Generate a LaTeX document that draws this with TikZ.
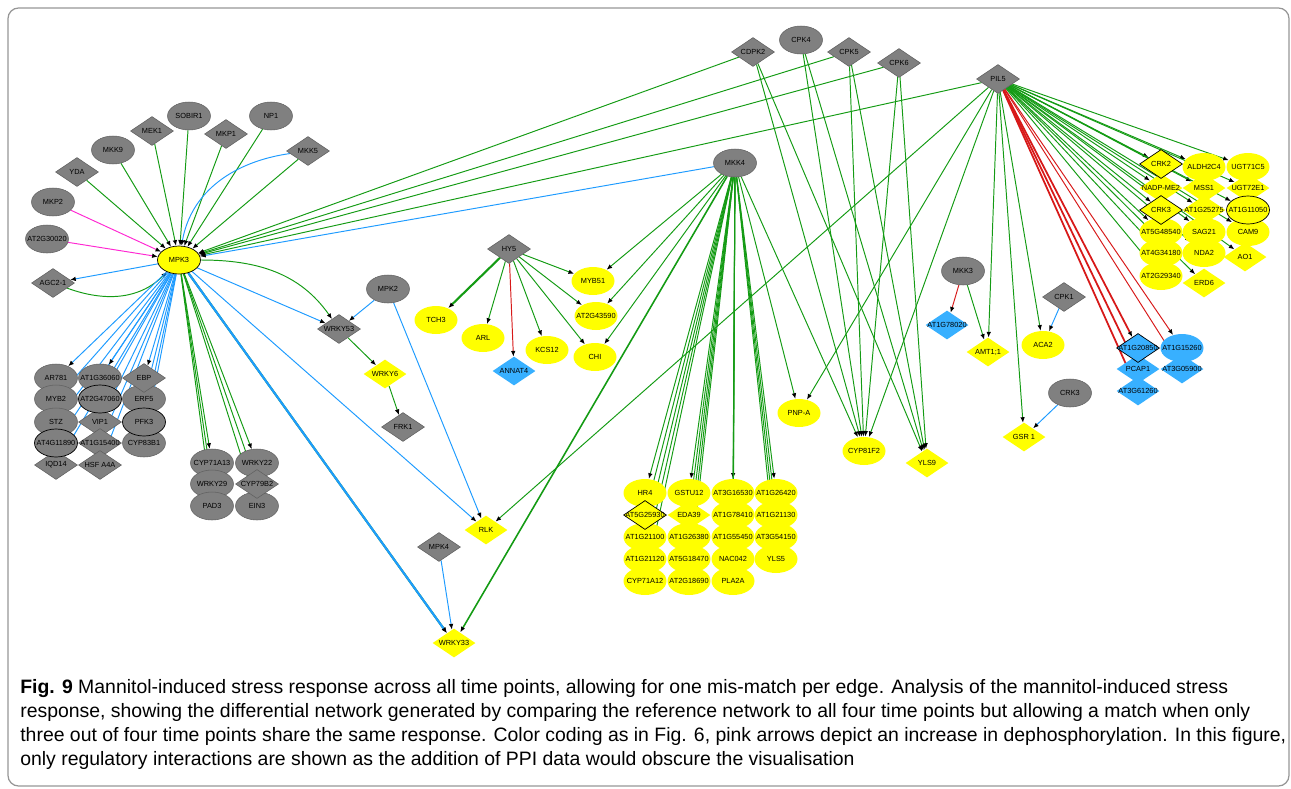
\documentclass[tikz,border=0pt]{standalone}
\usepackage{fontspec}
\setmainfont{Liberation Sans}
\usetikzlibrary{positioning,arrows.meta,shapes.geometric}
\definecolor{nodegray}{RGB}{128,128,128}
\definecolor{nodeyellow}{RGB}{255,255,0}
\definecolor{nodeblue}{RGB}{56,176,255}
\definecolor{actgreen}{RGB}{20,155,20}
\definecolor{phosblue}{RGB}{30,155,255}
\definecolor{inhred}{RGB}{215,25,25}
\definecolor{dephpink}{RGB}{255,40,210}
\definecolor{framegray}{RGB}{150,150,150}
\newcommand{\lbl}[1]{\makebox[0pt]{#1}}
\tikzstyle{vertex}=[ellipse,inner sep=0pt,minimum width=0.86cm,minimum height=0.56cm,font=\fontsize{4.2}{5}\selectfont]
\tikzstyle{rhomb}=[vertex,diamond,minimum height=0.58cm]
\tikzstyle{grey}=[fill=nodegray,draw=nodegray!75!black,line width=0.3pt]
\tikzstyle{yel}=[fill=nodeyellow]
\tikzstyle{blu}=[fill=nodeblue]
\tikzstyle{sel}=[draw=black,line width=0.4pt]
\tikzstyle{act}=[draw=actgreen,line width=0.55pt,-{Latex[color=black,length=3.2pt,width=2.6pt]}]
\tikzstyle{phos}=[act,draw=phosblue]
\tikzstyle{inhib}=[act,draw=inhred]
\tikzstyle{deph}=[act,draw=dephpink]
\tikzstyle{heavy}=[line width=1.2pt]
\tikzstyle{captext}=[anchor=north west,inner sep=0pt,align=left,font=\fontsize{11.05}{13.6}\selectfont]
\pgfdeclarelayer{background}
\pgfsetlayers{background,main}

\begin{document}
\begin{tikzpicture}[x=0.02cm,y=-0.02cm]
  \useasboundingbox (0,0) rectangle (1291,788);
  \draw[framegray,rounded corners=6pt,line width=0.7pt] (8,8) rectangle (1289,786);

  % grey nodes
  \foreach \pos/\name/\txt in {{(53,202)/mkp2/MKP2}, {(47,239)/at2g30020/AT2G30020}, {(113,150)/mkk9/MKK9},
                               {(189,116)/sobir1/SOBIR1}, {(271,116)/np1/NP1}, {(56,378)/ar781/AR781},
                               {(56,399)/myb2/MYB2}, {(56,422)/stz/STZ}, {(100,378)/at1g36060/AT1G36060},
                               {(144,399)/erf5/ERF5}, {(144,443)/cyp83b1/CYP83B1}, {(212,463)/cyp71a13/CYP71A13},
                               {(212,484)/wrky29/WRKY29}, {(212,506)/pad3/PAD3}, {(257,463)/wrky22/WRKY22},
                               {(257,506)/ein3/EIN3}, {(735,163)/mkk4/MKK4}, {(801,40)/cpk4/CPK4},
                               {(963,271)/mkk3/MKK3}, {(1070,393)/crk3b/CRK3}, {(388,289)/mpk2/MPK2}}
    \node[vertex,grey] (\name) at \pos {\lbl{\txt}};
  \foreach \pos/\name/\txt in {{(53,283)/agc21/AGC2-1}, {(77,172)/yda/YDA}, {(152,131)/mek1/MEK1},
                               {(226,134)/mkp1/MKP1}, {(308,151)/mkk5/MKK5}, {(56,465)/iqd14/IQD14},
                               {(100,422)/vip1/VIP1}, {(100,443)/at1g15400/AT1G15400}, {(100,465)/hsfa4a/HSF A4A},
                               {(144,378)/ebp/EBP}, {(257,484)/cyp79b2/CYP79B2}, {(339,329)/wrky53/WRKY53},
                               {(403,427)/frk1/FRK1}, {(509,249)/hy5/HY5}, {(439,547)/mpk4/MPK4},
                               {(753,52)/cdpk2/CDPK2}, {(849,52)/cpk5/CPK5}, {(899,63)/cpk6/CPK6},
                               {(998,79)/pil5/PIL5}, {(1064,297)/cpk1/CPK1}}
    \node[rhomb,grey] (\name) at \pos {\lbl{\txt}};
  \foreach \pos/\name/\txt in {{(56,443)/at4g11890/AT4G11890}, {(100,399)/at2g47060/AT2G47060},
                               {(144,422)/pfk3/PFK3}}
    \node[vertex,grey,sel] (\name) at \pos {\lbl{\txt}};

  % yellow nodes
  \foreach \pos/\name/\txt in {{(436,320)/tch3/TCH3}, {(483,338)/arl/ARL}, {(547,350)/kcs12/KCS12},
                               {(593,281)/myb51/MYB51}, {(596,316)/at2g43590/AT2G43590}, {(595,357)/chi/CHI},
                               {(799,413)/pnpa/PNP-A}, {(864,451)/cyp81f2/CYP81F2}, {(1043,345)/aca2/ACA2},
                               {(645,493)/hr4/HR4}, {(645,537)/at1g21100/AT1G21100}, {(645,559)/at1g21120/AT1G21120},
                               {(645,581)/cyp71a12/CYP71A12}, {(689,493)/gstu12/GSTU12}, {(689,537)/at1g26380/AT1G26380},
                               {(689,559)/at5g18470/AT5G18470}, {(689,581)/at2g18690/AT2G18690},
                               {(733,493)/at3g16530/AT3G16530}, {(733,515)/at1g78410/AT1G78410},
                               {(733,537)/at1g55450/AT1G55450}, {(733,559)/nac042/NAC042}, {(733,581)/pla2a/PLA2A},
                               {(776,493)/at1g26420/AT1G26420}, {(776,515)/at1g21130/AT1G21130},
                               {(776,537)/at3g54150/AT3G54150}, {(776,559)/yls5/YLS5},
                               {(1204,167)/aldh2c4/ALDH2C4}, {(1248,167)/ugt71c5/UGT71C5}, {(1161,232)/at5g48540/AT5G48540},
                               {(1161,253)/at4g34180/AT4G34180}, {(1161,276)/at2g29340/AT2G29340},
                               {(1204,232)/sag21/SAG21}, {(1204,253)/nda2/NDA2}, {(1248,232)/cam9/CAM9}}
    \node[vertex,yel] (\name) at \pos {\lbl{\txt}};
  \foreach \pos/\name/\txt in {{(385,374)/wrky6/WRKY6}, {(486,530)/rlk/RLK}, {(454,643)/wrky33/WRKY33},
                               {(927,463)/yls9/YLS9}, {(988,352)/amt11/AMT1;1}, {(1024,437)/gsr1/GSR 1},
                               {(689,515)/eda39/EDA39}, {(1161,188)/nadpme2/NADP-ME2}, {(1204,188)/mss1/MSS1},
                               {(1204,210)/at1g25275/AT1G25275}, {(1204,283)/erd6/ERD6},
                               {(1248,188)/ugt72e1/UGT72E1}, {(1245,257)/ao1/AO1}}
    \node[rhomb,yel] (\name) at \pos {\lbl{\txt}};
  \node[vertex,yel,sel] (mpk3) at (179,260) {\lbl{MPK3}};
  \node[vertex,yel,sel] (at1g11050) at (1248,210) {\lbl{AT1G11050}};
  \foreach \pos/\name/\txt in {{(645,515)/at5g25930/AT5G25930}, {(1161,164)/crk2/CRK2}, {(1161,210)/crk3/CRK3}}
    \node[rhomb,yel,sel] (\name) at \pos {\lbl{\txt}};

  % blue nodes
  \foreach \pos/\name/\txt in {{(514,371)/annat4/ANNAT4}, {(947,325)/at1g78020/AT1G78020},
                               {(1138,369)/pcap1/PCAP1}, {(1138,391)/at3g61260/AT3G61260},
                               {(1182,369)/at3g05900/AT3G05900}}
    \node[rhomb,blu] (\name) at \pos {\lbl{\txt}};
  \node[vertex,blu] (at1g15260) at (1182,348) {\lbl{AT1G15260}};
  \node[rhomb,blu,sel] (at1g20850) at (1138,348) {\lbl{AT1G20850}};

  \begin{pgfonlayer}{background}
    % activation
    \foreach \source / \dest in {yda/mpk3, mkk9/mpk3, mek1/mpk3, sobir1/mpk3, mkp1/mpk3, np1/mpk3,
                                 mkk5/mpk3, cdpk2/mpk3, cpk5/mpk3, cpk6/mpk3, pil5/mpk3,
                                 mpk3/cyp71a13, mpk3/wrky29, mpk3/pad3, mpk3/wrky22, mpk3/cyp79b2, mpk3/ein3,
                                 wrky53/wrky6, wrky6/frk1, hy5/arl, hy5/kcs12, hy5/chi, hy5/at2g43590, hy5/myb51,
                                 mkk4/myb51, mkk4/at2g43590, mkk4/chi, mkk4/pnpa, mkk4/cyp81f2,
                                 cdpk2/cyp81f2, cdpk2/yls9, cpk4/cyp81f2, cpk4/yls9, cpk5/cyp81f2, cpk5/yls9,
                                 cpk6/cyp81f2, cpk6/yls9, pil5/rlk, pil5/pnpa, pil5/cyp81f2, pil5/amt11,
                                 pil5/gsr1, pil5/aca2, mkk3/amt11}
      \path[act] (\source) -- (\dest);
    \foreach \dest in {hr4, at5g25930, at1g21100, at1g21120, cyp71a12, gstu12, eda39, at1g26380,
                       at5g18470, at2g18690, at3g16530, at1g78410, at1g55450, nac042, pla2a,
                       at1g26420, at1g21130, at3g54150, yls5}
      \path[act] (mkk4) -- (\dest);
    \foreach \dest in {crk2, nadpme2, crk3, at5g48540, at4g34180, at2g29340, aldh2c4, mss1, at1g25275,
                       sag21, nda2, erd6, ugt71c5, ugt72e1, at1g11050, cam9, ao1}
      \path[act] (pil5) -- (\dest);
    \path[act,heavy] (hy5) -- (tch3);
    \path[act,heavy] (mpk3) -- (wrky33);
    \path[act,line width=0.9pt] (mkk4) -- (wrky33);
    \path[act] (agc21) to[out=-20,in=225] (mpk3);
    \path[act] (mpk3) to[out=0,in=125] (wrky53);
    % phosphorylation
    \foreach \source / \dest in {mpk3/agc21, mkk4/mpk3, mpk3/wrky53, mpk2/wrky53, mpk2/rlk, mpk3/rlk,
                                 mpk4/wrky33, cpk1/aca2, crk3b/gsr1}
      \path[phos] (\source) -- (\dest);
    \foreach \dest in {ar781, myb2, stz, at4g11890, iqd14, at1g36060, at2g47060, vip1, at1g15400,
                       hsfa4a, ebp, erf5, pfk3, cyp83b1}
      \path[phos] (mpk3) -- (\dest);
    \path[phos,heavy] (mpk3) -- (wrky33);
    \path[phos] (mkk5) to[out=188,in=80] (mpk3);
    % inhibition and dephosphorylation
    \foreach \source / \dest in {hy5/annat4, mkk3/at1g78020, pil5/at1g15260, pil5/at3g05900}
      \path[inhib] (\source) -- (\dest);
    \foreach \dest in {at1g20850, pcap1, at3g61260}
      \path[inhib,line width=1pt] (pil5) -- (\dest);
    \foreach \source in {mkp2, at2g30020}
      \path[deph] (\source) -- (mpk3);
  \end{pgfonlayer}

  \node[captext] (caption) at (20,679) {\textbf{Fig. 9} Mannitol-induced stress response across all time points, allowing for one mis-match per edge. Analysis of the mannitol-induced stress\\
    response, showing the differential network generated by comparing the reference network to all four time points but allowing a match when only\\
    three out of four time points share the same response. Color coding as in Fig. 6, pink arrows depict an increase in dephosphorylation. In this figure,\\
    only regulatory interactions are shown as the addition of PPI data would obscure the visualisation};
\end{tikzpicture}
\end{document}
